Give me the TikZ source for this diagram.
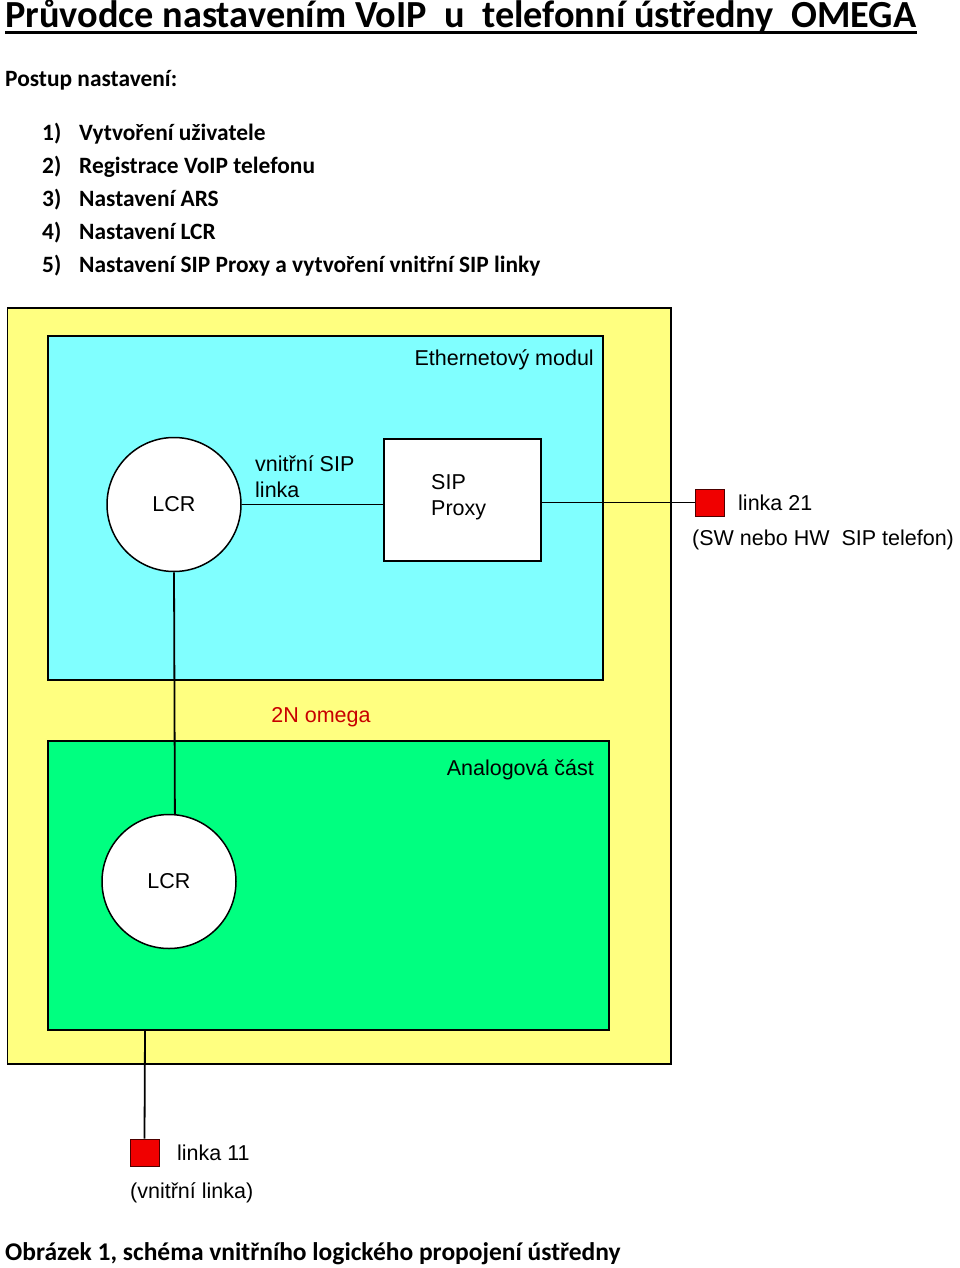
\documentclass[tikz,border=0pt]{standalone}
\usepackage{fontspec}
\setmainfont{Carlito}
\newfontfamily\diafont{Liberation Sans}
\definecolor{ylw}{HTML}{FFFF80}
\definecolor{cyn}{HTML}{80FFFF}
\definecolor{grn}{HTML}{00FF80}
\definecolor{sqred}{HTML}{F00000}
\definecolor{txtred}{HTML}{C80000}
\begin{document}
\begin{tikzpicture}[x=1pt,y=-1pt,
  box/.style={draw=black,line width=1.8pt},
  lcr/.style={circle,draw=black,fill=white,line width=1.5pt,minimum size=134pt,inner sep=0pt,font=\diafont\fontsize{21.5}{24}\selectfont},
  lbl/.style={anchor=base west,inner sep=0pt,font=\diafont\fontsize{21.5}{24}\selectfont},
  conn/.style={draw=black,line width=1.8pt},
  phone/.style={draw=black!70!red,fill=sqred,line width=0.8pt,minimum width=29pt,minimum height=27pt,inner sep=0pt},
  hdr/.style={anchor=base west,inner sep=0pt,font=\bfseries\fontsize{23.4}{26}\selectfont}]
\useasboundingbox (0,0) rectangle (960,1268);
% title
\node[anchor=base west,inner sep=0pt,font=\bfseries\fontsize{38.3}{42}\selectfont] (title) at (5,28) {Průvodce nastavením VoIP\ \ u\ \ telefonní ústředny\ \ OMEGA};
\fill (5,31) rectangle (917,34);
\node[hdr] (postup) at (5,87) {Postup nastavení:};
\node[hdr] (n1) at (42,141) {1)};
\node[hdr] (t1) at (79,141) {Vytvoření uživatele};
\node[hdr] (n2) at (42,174) {2)};
\node[hdr] (t2) at (79,174) {Registrace VoIP telefonu};
\node[hdr] (n3) at (42,207) {3)};
\node[hdr] (t3) at (79,207) {Nastavení ARS};
\node[hdr] (n4) at (42,239) {4)};
\node[hdr] (t4) at (79,239) {Nastavení LCR};
\node[hdr] (n5) at (42,272) {5)};
\node[hdr] (t5) at (79,272) {Nastavení SIP Proxy a vytvoření vnitřní SIP linky};
% boxes
\draw[box,fill=ylw] (7.5,308) rectangle (671,1064);
\draw[box,fill=cyn] (48,336) rectangle (603,680);
\draw[box,fill=grn] (48,741) rectangle (609,1030);
\node[lbl,anchor=base east] (eth) at (594,365) {Ethernetový modul};
\node[lbl,anchor=base east] (ana) at (594,775) {Analogová část};
\node[lbl,anchor=base,text=txtred] (omega) at (321,722) {2N omega};
% nodes
\node[lcr] (lcr1) at (174,504.5) {LCR};
\node[lcr] (lcr2) at (169,881.5) {LCR};
\node[draw=black,fill=white,line width=1.8pt,minimum width=157pt,minimum height=122pt,inner sep=0pt] (proxy) at (462.5,500) {};
\node[lbl] (sip) at (431,489) {SIP};
\node[lbl] (prx) at (431,515) {Proxy};
\node[lbl] (vsip) at (255,471) {vnitřní SIP};
\node[lbl] (vl) at (255,497) {linka};
\node[phone] (ph21) at (709.5,502.5) {};
\node[phone] (ph11) at (144.5,1152.5) {};
\node[lbl] (l21) at (738,510) {linka 21};
\node[lbl] (l21b) at (692,545) {(SW nebo HW\ \ SIP telefon)};
\node[lbl] (l11) at (177,1160) {linka 11};
\node[lbl] (l11b) at (130,1198) {(vnitřní linka)};
\coordinate (gb) at (145,1030);
% connectors
\draw[conn] (lcr1.east) -- (lcr1.east -| proxy.west);
\draw[conn] (proxy.east |- ph21.west) -- (ph21.west);
\draw[conn] (lcr1.south) -- (lcr2.85);
\draw[conn] (gb) -- (ph11.north);
% caption
\node[anchor=base west,inner sep=0pt,font=\bfseries\fontsize{25.5}{28}\selectfont] (cap) at (5,1260) {Obrázek 1, schéma vnitřního logického propojení ústředny};
\end{tikzpicture}
\end{document}
